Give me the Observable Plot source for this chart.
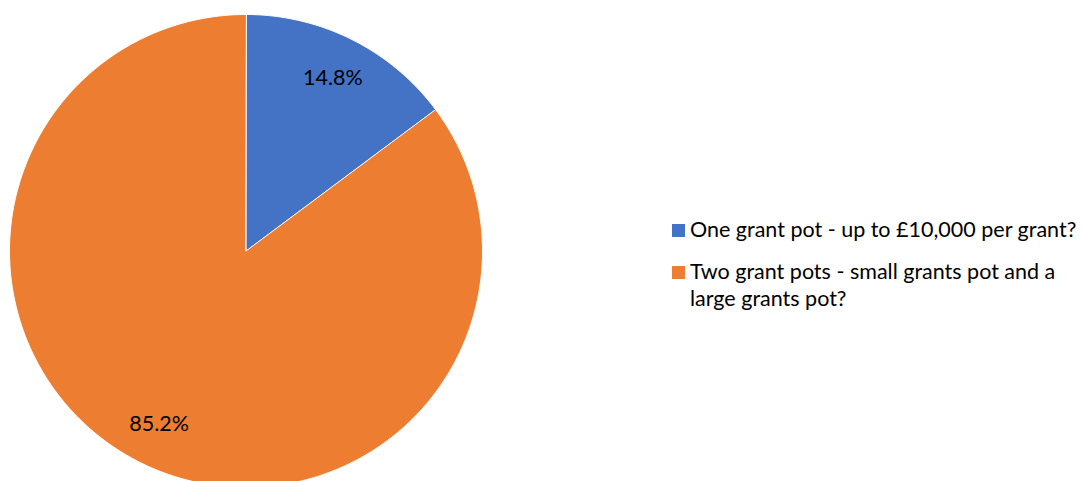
<!DOCTYPE html>
<html>
<head>
<meta charset="utf-8">
<script src="https://cdn.jsdelivr.net/npm/d3@7"></script>
<script src="https://cdn.jsdelivr.net/npm/@observablehq/plot@0.6"></script>
<style>
  html, body { margin: 0; padding: 0; background: #fff; }
  #wrap { position: relative; width: 1081px; height: 481px; overflow: hidden; }
  #legend { position: absolute; left: 672px; top: 216px; width: 408px;
    font-family: Lato, "Open Sans", sans-serif; font-size: 21.5px; color: #000; line-height: 27px; }
  .item { display: flex; align-items: flex-start; margin-bottom: 15px; }
  .sw { width: 13px; height: 13px; flex: none; margin-top: 8px; margin-right: 5px; }
</style>
</head>
<body>
<div id="wrap"></div>
<script>
const categories = [
  "One grant pot - up to £10,000 per grant?",
  "Two grant pots - small grants pot and a large grants pot?"
];
const shares = [14.8, 85.2];
const colors = ["#4472C4", "#ED7D31"];

const total = d3.sum(shares);
const arcs = [];
const labels = [];
let start = 0;
categories.forEach((c, i) => {
  const end = start + shares[i] / total * 2 * Math.PI;
  const steps = Math.max(2, Math.ceil((end - start) / (Math.PI / 360)));
  arcs.push({cat: c, x: 0, y: 0});
  for (let k = 0; k <= steps; k++) {
    const a = start + (end - start) * k / steps;
    arcs.push({cat: c, x: Math.sin(a), y: Math.cos(a)});
  }
  const mid = (start + end) / 2;
  labels.push({cat: c, x: 0.82 * Math.sin(mid), y: 0.82 * Math.cos(mid), text: shares[i].toFixed(1) + "%"});
  start = end;
});

const chart = Plot.plot({
  width: 1081,
  height: 481,
  margin: 0,
  x: {domain: [-1, 1], range: [9, 482], axis: null},
  y: {domain: [-1, 1], range: [487, 14], axis: null},
  color: {domain: categories, range: colors},
  marks: [
    Plot.line(arcs, {x: "x", y: "y", z: "cat", fill: "cat", stroke: "white", strokeWidth: 1, curve: "linear-closed"}),
    Plot.text(labels, {x: "x", y: "y", text: "text", fontSize: 21.5, fontFamily: "Lato, 'Open Sans', sans-serif", fill: "black"})
  ]
});
document.getElementById("wrap").appendChild(chart);

const legend = document.createElement("div");
legend.id = "legend";
categories.forEach((c, i) => {
  const it = document.createElement("div");
  it.className = "item";
  const sw = document.createElement("span");
  sw.className = "sw";
  sw.style.background = colors[i];
  const t = document.createElement("span");
  t.textContent = c;
  it.appendChild(sw); it.appendChild(t);
  legend.appendChild(it);
});
document.getElementById("wrap").appendChild(legend);
</script>
</body>
</html>
